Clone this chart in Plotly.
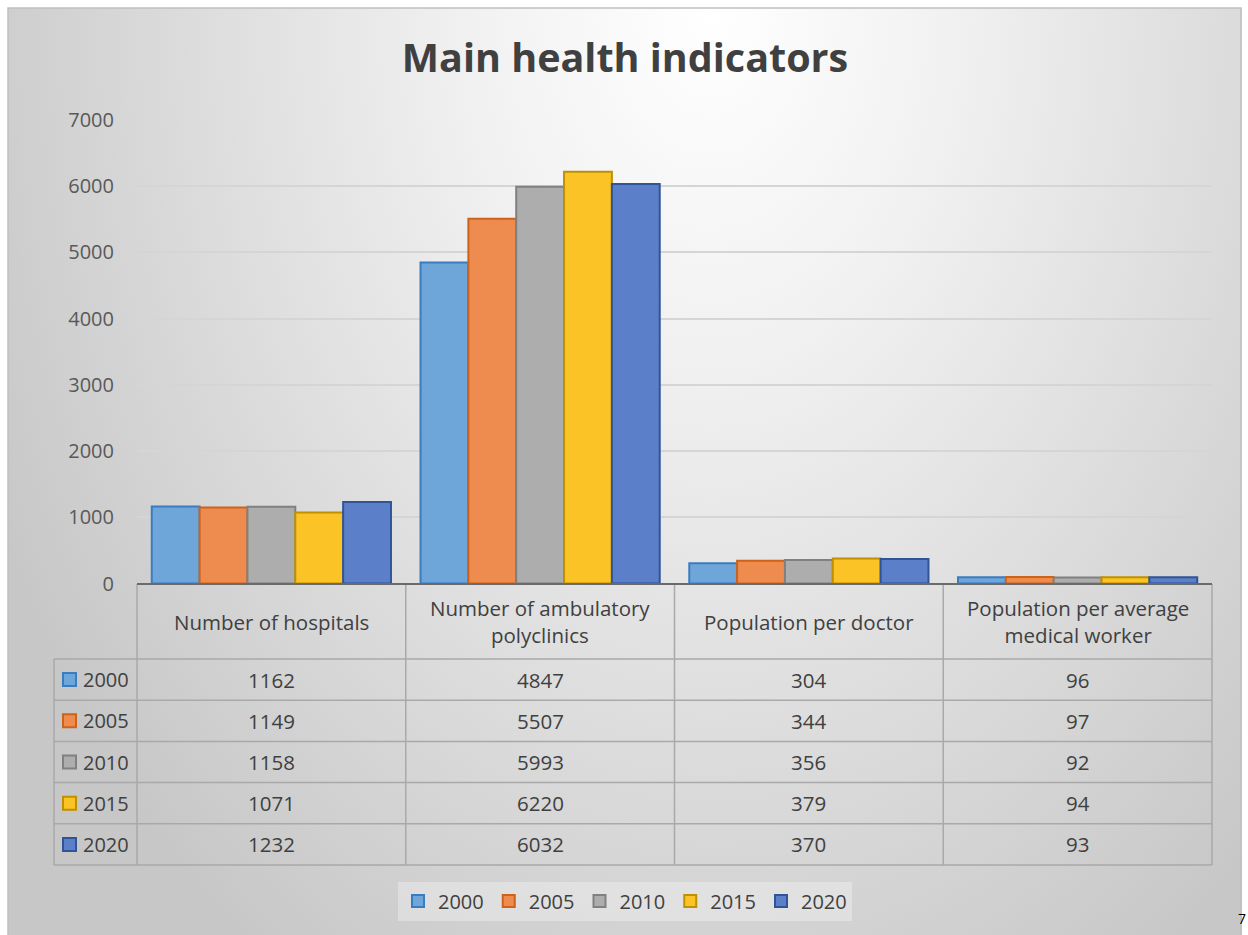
import base64
import plotly.graph_objects as go

# ---------------- data ----------------
categories = ["Number of hospitals", "Number of ambulatory polyclinics",
              "Population per doctor", "Population per average medical worker"]
category_labels = ["Number of hospitals", "Number of ambulatory<br>polyclinics",
                   "Population per doctor", "Population per average<br>medical worker"]
years = ["2000", "2005", "2010", "2015", "2020"]
values_2000 = [1162, 4847, 304, 96]
values_2005 = [1149, 5507, 344, 97]
values_2010 = [1158, 5993, 356, 92]
values_2015 = [1071, 6220, 379, 94]
values_2020 = [1232, 6032, 370, 93]
series = [values_2000, values_2005, values_2010, values_2015, values_2020]
y_ticks = [0, 1000, 2000, 3000, 4000, 5000, 6000, 7000]
title_text = "Main health indicators"

# ---------------- style ----------------
fills = ["#6FA6D9", "#EE8B4E", "#ADADAD", "#FBC325", "#5B7FC9"]
borders = ["#3A7CC0", "#CF6219", "#808080", "#BF9000", "#2F5597"]
FONT = "Open Sans"
W, H = 1248, 935


def px(x):
    return x / W


def py(y):
    return 1 - y / H


# plot geometry (pixels)
PX0, PX1 = 137, 1212
PY0, PY1 = 583.5, 120
TABLE_TOP = 584
HEADER_BOTTOM = 659
ROW_H = 41.2
TABLE_LEFT = 54

fig = go.Figure()
for yr, vals, fc, bc in zip(years, series, fills, borders):
    fig.add_trace(go.Bar(
        x=categories, y=vals, name=yr,
        marker=dict(color=fc, line=dict(color=bc, width=2)),
    ))

# background gradient (radial, Excel-like)
svg = f'''<svg xmlns="http://www.w3.org/2000/svg" width="1234" height="930" viewBox="0 0 1234 930" preserveAspectRatio="none">
<defs><radialGradient id="g" gradientUnits="userSpaceOnUse" cx="0" cy="0" r="1" gradientTransform="translate(702,0) scale(800,1150)">
<stop offset="0" stop-color="#ffffff"/><stop offset="0.3" stop-color="#f1f1f1"/>
<stop offset="0.5" stop-color="#e5e5e5"/><stop offset="0.7" stop-color="#d9d9d9"/>
<stop offset="0.9" stop-color="#cdcdcd"/><stop offset="1" stop-color="#c7c7c7"/>
</radialGradient></defs><rect x="0" y="0" width="1234" height="930" fill="url(#g)"/></svg>'''
src = "data:image/svg+xml;base64," + base64.b64encode(svg.encode()).decode()

shapes = []
annotations = []

# chart border
shapes.append(dict(type="rect", xref="paper", yref="paper", x0=px(8), x1=px(1241),
                   y0=py(8), y1=py(940), line=dict(color="#c0c0c0", width=1.5),
                   fillcolor="rgba(0,0,0,0)", layer="above"))

# table geometry
n_cat = len(categories)
col_w = (PX1 - PX0) / n_cat
col_edges = [PX0 + i * col_w for i in range(n_cat + 1)]
row_edges = [HEADER_BOTTOM + i * ROW_H for i in range(len(years) + 1)]
grid_col = "#a9a9a9"

for i, ye in enumerate(row_edges):
    shapes.append(dict(type="line", xref="paper", yref="paper", x0=px(TABLE_LEFT), x1=px(PX1),
                       y0=py(ye), y1=py(ye), line=dict(color=grid_col, width=1.5)))
for xe in col_edges:
    shapes.append(dict(type="line", xref="paper", yref="paper", x0=px(xe), x1=px(xe),
                       y0=py(TABLE_TOP), y1=py(row_edges[-1]), line=dict(color=grid_col, width=1.5)))
shapes.append(dict(type="line", xref="paper", yref="paper", x0=px(TABLE_LEFT), x1=px(TABLE_LEFT),
                   y0=py(HEADER_BOTTOM), y1=py(row_edges[-1]), line=dict(color=grid_col, width=1.5)))
# axis line (top of table)
shapes.append(dict(type="line", xref="paper", yref="paper", x0=px(PX0), x1=px(PX1),
                   y0=py(TABLE_TOP), y1=py(TABLE_TOP), line=dict(color="#6a6a6a", width=2)))

# header labels
for cat, lab in zip(categories, category_labels):
    annotations.append(dict(x=cat, xref="x", y=py((TABLE_TOP + HEADER_BOTTOM) / 2), yref="paper",
                            text=lab, showarrow=False, xanchor="center", yanchor="middle",
                            font=dict(family=FONT, size=20.5, color="#404040")))

# rows
for r, (yr, vals, fc, bc) in enumerate(zip(years, series, fills, borders)):
    yc = (row_edges[r] + row_edges[r + 1]) / 2
    shapes.append(dict(type="rect", xref="paper", yref="paper", x0=px(63), x1=px(76),
                       y0=py(yc - 6.5), y1=py(yc + 6.5), fillcolor=fc,
                       line=dict(color=bc, width=2)))
    annotations.append(dict(x=px(81), xref="paper", y=py(yc), yref="paper", text=yr,
                            showarrow=False, xanchor="left", yanchor="middle",
                            font=dict(family=FONT, size=20, color="#404040")))
    for cat, v in zip(categories, vals):
        annotations.append(dict(x=cat, xref="x", y=py(yc), yref="paper", text=str(v),
                                showarrow=False, xanchor="center", yanchor="middle",
                                font=dict(family=FONT, size=20.5, color="#404040")))

# page-number artifact at right edge
annotations.append(dict(x=1.0, xref="paper", y=py(918), yref="paper", text="7",
                        showarrow=False, xanchor="right", yanchor="middle",
                        font=dict(family=FONT, size=14, color="#000000")))

fig.update_layout(
    width=W, height=H,
    margin=dict(l=0, r=0, t=0, b=0, pad=0, autoexpand=False),
    paper_bgcolor="#ffffff",
    plot_bgcolor="rgba(0,0,0,0)",
    font=dict(family=FONT, color="#404040"),
    barmode="group", bargap=0.11, bargroupgap=0,
    title=dict(text=title_text, x=px(625), xanchor="center", y=py(58), yanchor="middle",
               font=dict(family=FONT, size=39.5, color="#404040", weight="bold")),
    xaxis=dict(domain=[px(PX0), px(PX1)], showticklabels=False, showgrid=False,
               zeroline=False, showline=False, ticks="", range=[-0.5, n_cat - 0.5]),
    yaxis=dict(domain=[py(PY0), py(PY1)], range=[0, 7000], tickvals=y_ticks,
               showgrid=True, gridcolor="#d5d5d5", gridwidth=1.5, zeroline=False,
               showline=False, ticks="", ticklabelstandoff=22,
               tickfont=dict(family=FONT, size=20, color="#595959")),
    legend=dict(orientation="h", x=px(625), xanchor="center", y=py(901), yanchor="middle",
                bgcolor="rgba(255,255,255,0.3)", borderwidth=0,
                font=dict(family=FONT, size=20, color="#404040"), traceorder="normal"),
    images=[dict(source=src, xref="paper", yref="paper", x=px(8), y=py(8),
                 sizex=1234 / W, sizey=930 / H, xanchor="left", yanchor="top",
                 sizing="stretch", layer="below")],
    shapes=shapes,
    annotations=annotations,
    showlegend=True,
)

fig.write_html("out.html", config={"displayModeBar": False},
               post_script="document.body.style.margin='0';")
